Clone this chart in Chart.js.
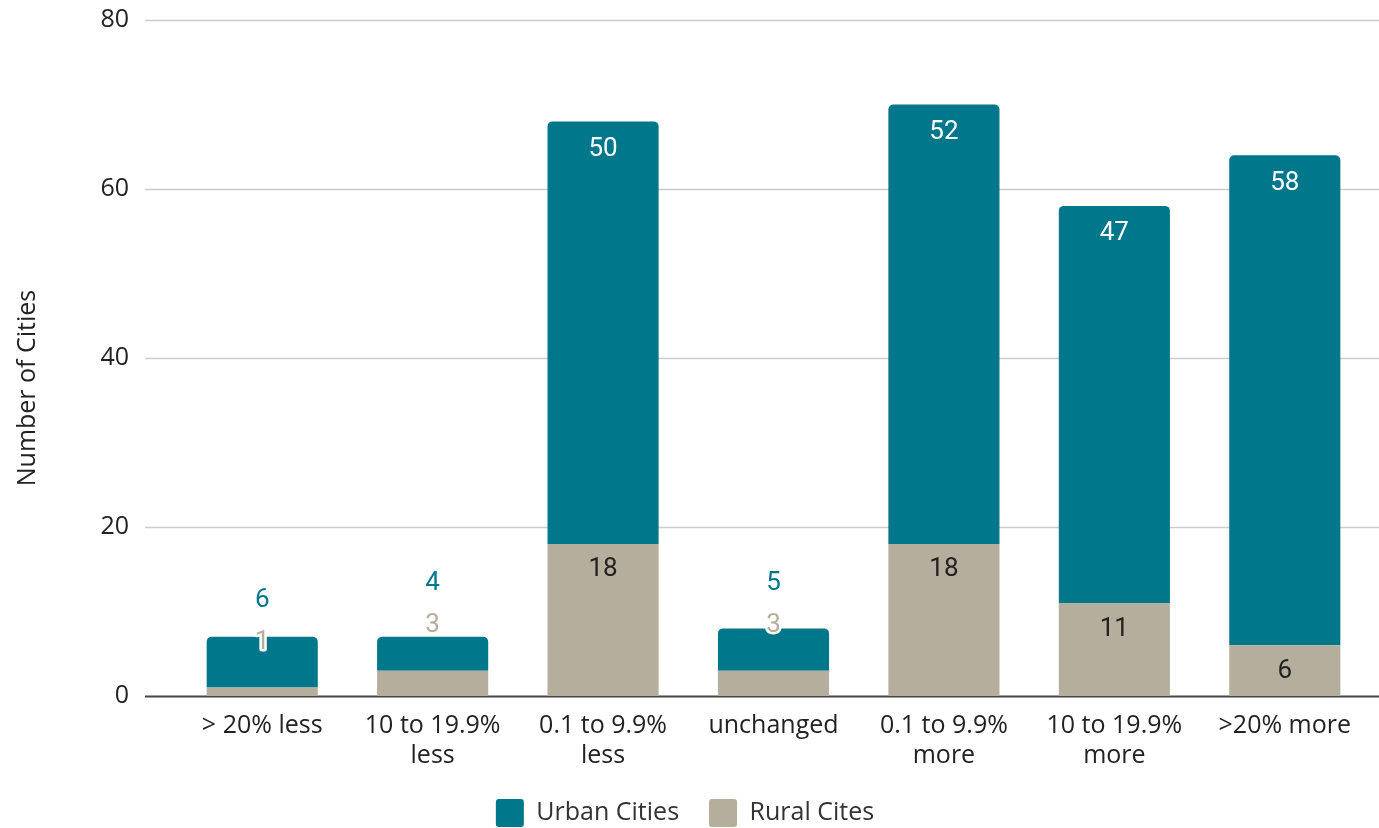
<!DOCTYPE html>
<html>
<head>
<meta charset="utf-8">
<script src="https://cdn.jsdelivr.net/npm/chart.js@4"></script>
<style>
  html, body { margin: 0; padding: 0; background: #fff; }
  #wrap { width: 1379px; height: 828px; position: relative; }
</style>
</head>
<body>
<div id="wrap"><canvas id="cities"></canvas></div>
<script>
const categories = [
  "> 20% less",
  ["10 to 19.9%", "less"],
  ["0.1 to 9.9%", "less"],
  "unchanged",
  ["0.1 to 9.9%", "more"],
  ["10 to 19.9%", "more"],
  ">20% more",
];
const urbanCities = [6, 4, 50, 5, 52, 47, 58];
const ruralCities = [1, 3, 18, 3, 18, 11, 6];
const yTickValues = [0, 20, 40, 60, 80];

const TEAL = "#00778b";
const BEIGE = "#b6ae9c";
const FONT = "'Open Sans'";

// horizontal grid lines, a bit wider than the bar area, plus the dark baseline
const gridLines = {
  id: "gridLines",
  beforeDatasetsDraw(chart) {
    const { ctx, chartArea, scales } = chart;
    const x0 = chartArea.left - 32;
    const x1 = chart.width;
    ctx.save();
    yTickValues.forEach((v) => {
      const y = Math.round(scales.y.getPixelForValue(v)) + 0.5;
      ctx.beginPath();
      ctx.strokeStyle = v === 0 ? "#444" : "#cccccc";
      ctx.lineWidth = v === 0 ? 2 : 1.5;
      ctx.moveTo(x0, y);
      ctx.lineTo(x1, y);
      ctx.stroke();
    });
    ctx.restore();
  },
};

// value labels: inside the segments when there is room, stacked above the bar otherwise
const valueLabels = {
  id: "valueLabels",
  afterDatasetsDraw(chart) {
    const { ctx } = chart;
    const rural = chart.getDatasetMeta(0).data;
    const urban = chart.getDatasetMeta(1).data;
    ctx.save();
    ctx.font = "26px Roboto";
    ctx.textAlign = "center";
    ctx.textBaseline = "middle";
    ctx.lineJoin = "round";
    rural.forEach((r, i) => {
      const u = urban[i];
      const ruralH = r.base - r.y;
      if (ruralH >= 40) {
        ctx.fillStyle = "#222";
        ctx.fillText(ruralCities[i], r.x, r.y + 26);
        ctx.fillStyle = "#fff";
        ctx.fillText(urbanCities[i], u.x, u.y + 28);
      } else {
        const ry = r.y - 45;
        ctx.strokeStyle = "#fff";
        ctx.lineWidth = 5;
        ctx.strokeText(ruralCities[i], r.x, ry);
        ctx.fillStyle = BEIGE;
        ctx.fillText(ruralCities[i], r.x, ry);
        ctx.fillStyle = TEAL;
        ctx.fillText(urbanCities[i], u.x, ry - 42);
      }
    });
    ctx.restore();
  },
};

// rotated y axis title
const yTitle = {
  id: "yTitle",
  afterDraw(chart) {
    const { ctx } = chart;
    ctx.save();
    ctx.translate(28, 388);
    ctx.rotate(-Math.PI / 2);
    ctx.font = "25px " + FONT;
    ctx.fillStyle = "#222";
    ctx.textAlign = "center";
    ctx.textBaseline = "middle";
    ctx.fillText("Number of Cities", 0, 0);
    ctx.restore();
  },
};

new Chart(document.getElementById("cities"), {
  type: "bar",
  data: {
    labels: categories,
    datasets: [
      {
        label: "Rural Cites",
        data: ruralCities,
        backgroundColor: BEIGE,
        borderRadius: 0,
      },
      {
        label: "Urban Cities",
        data: urbanCities,
        backgroundColor: TEAL,
        borderRadius: { topLeft: 5, topRight: 5, bottomLeft: 0, bottomRight: 0 },
        borderSkipped: false,
      },
    ],
  },
  options: {
    responsive: true,
    maintainAspectRatio: false,
    animation: false,
    categoryPercentage: 1,
    barPercentage: 0.652,
    layout: { padding: { top: 20, right: 9, left: 0, bottom: -9 } },
    scales: {
      x: {
        stacked: true,
        afterFit: (scale) => {
          scale.height = 73;
        },
        grid: { display: false },
        border: { display: false },
        ticks: {
          color: "#222",
          font: { family: FONT, size: 25 },
          maxRotation: 0,
          autoSkip: false,
          padding: 7,
        },
      },
      y: {
        stacked: true,
        min: 0,
        max: 80,
        afterBuildTicks: (scale) => {
          scale.ticks = yTickValues.map((v) => ({ value: v }));
        },
        afterFit: (scale) => {
          scale.width = 177;
          scale.paddingTop = 0;
          scale.paddingBottom = 0;
        },
        grid: { display: false },
        border: { display: false },
        ticks: {
          color: "#222",
          font: { family: FONT, size: 25 },
          padding: 40,
        },
      },
    },
    plugins: {
      legend: {
        position: "bottom",
        labels: {
          color: "#333",
          font: { family: FONT, size: 25 },
          boxWidth: 28,
          boxHeight: 28,
          useBorderRadius: true,
          borderRadius: 3,
          padding: 30,
          sort: (a, b) => b.datasetIndex - a.datasetIndex,
        },
      },
      tooltip: { enabled: false },
    },
  },
  plugins: [gridLines, valueLabels, yTitle],
});
</script>
</body>
</html>
